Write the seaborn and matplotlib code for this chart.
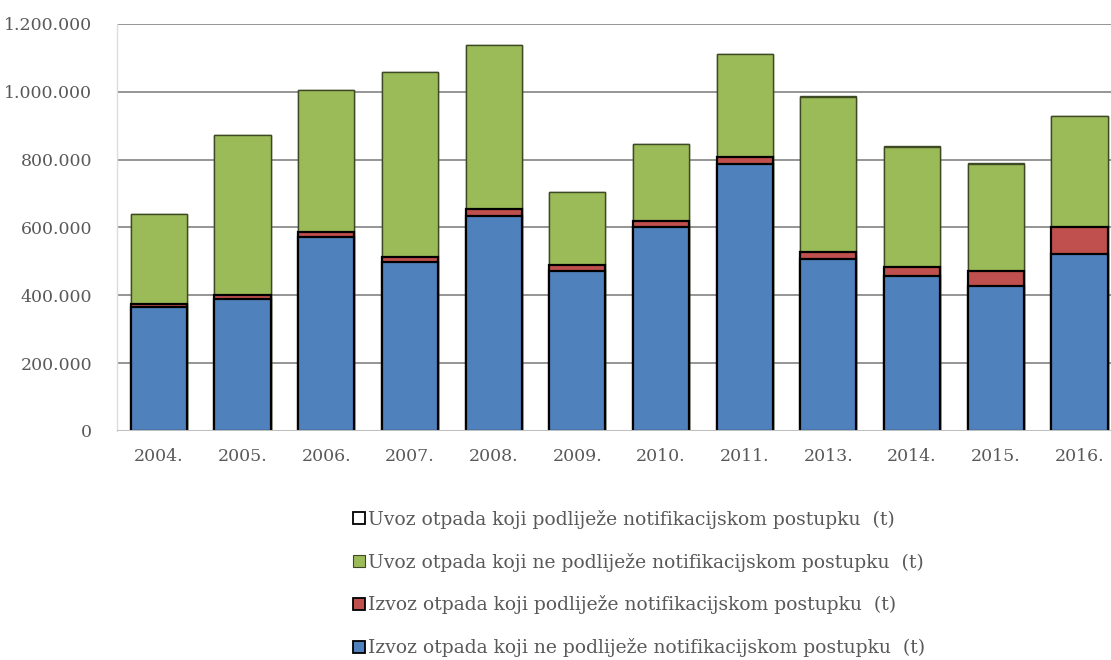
import seaborn as sns
import numpy as np
import pandas as pd
import matplotlib.pyplot as plt
from matplotlib.patches import Patch
from matplotlib.ticker import FuncFormatter

years = ['2004.', '2005.', '2006.', '2007.', '2008.', '2009.',
         '2010.', '2011.', '2013.', '2014.', '2015.', '2016.']
# tonnes per series (stack order bottom -> top)
izvoz_ne = [365000, 388000, 571000, 499000, 634000, 473000, 602000, 786000, 507000, 457000, 427000, 522000]
izvoz_da = [9000, 13000, 16000, 15000, 20000, 16000, 18000, 23000, 21000, 26000, 44000, 78000]
uvoz_ne = [266000, 472000, 418000, 544000, 484000, 216000, 226000, 302000, 458000, 355000, 317000, 328000]
uvoz_da = [1000, 1000, 1000, 1000, 1000, 1000, 1000, 1000, 1000, 1000, 1000, 1000]

labels = ['Uvoz otpada koji podliježe notifikacijskom postupku  (t)',
          'Uvoz otpada koji ne podliježe notifikacijskom postupku  (t)',
          'Izvoz otpada koji podliježe notifikacijskom postupku  (t)',
          'Izvoz otpada koji ne podliježe notifikacijskom postupku  (t)']

sns.set_style('white')
plt.rcParams['font.family'] = ['DejaVu Serif']
grey = '#595959'

df = pd.DataFrame({'year': years, 'izvoz_ne': izvoz_ne, 'izvoz_da': izvoz_da,
                   'uvoz_ne': uvoz_ne, 'uvoz_da': uvoz_da})
df['c1'] = df['izvoz_ne']
df['c2'] = df['c1'] + df['izvoz_da']
df['c3'] = df['c2'] + df['uvoz_ne']
df['c4'] = df['c3'] + df['uvoz_da']

fig = plt.figure(figsize=(11.11, 6.6), dpi=100)
ax = fig.add_axes([0.1053, 0.347, 0.904, 0.6167])

#draw cumulative totals from the top down so each layer covers the one above
layers = [('c4', 'white', '#3d4a24', 1.0),
          ('c3', '#9bbb59', '#3d4a24', 1.0),
          ('c2', '#c0504d', 'black', 1.6),
          ('c1', '#4f81bd', 'black', 1.6)]
for col, fc, ec, lw in layers:
    sns.barplot(data=df, x='year', y=col, color=fc, saturation=1, width=0.67,
                edgecolor=ec, linewidth=lw, ax=ax, zorder=3)

ax.set_xlim(-0.5, 11.5)
ax.set_ylim(0, 1200000)
ax.set_yticks(np.arange(0, 1200001, 200000))
ax.yaxis.set_major_formatter(FuncFormatter(lambda v, p: f'{int(v):,}'.replace(',', '.')))
ax.grid(axis='y', color='#8c8c8c', linewidth=1.3, zorder=0)
ax.set_axisbelow(True)
ax.set_xlabel('')
ax.set_ylabel('')
for s in ['top', 'right', 'bottom']:
    ax.spines[s].set_visible(False)
ax.spines['left'].set_color('#d9dde3')
ax.spines['left'].set_linewidth(1)
ax.axhline(0, color='#bfbfbf', linewidth=1.5, zorder=4)
ax.tick_params(axis='both', colors=grey, labelsize=12.5, length=0)
ax.tick_params(axis='y', pad=18)
ax.tick_params(axis='x', pad=12)

handles = [Patch(facecolor='white', edgecolor='black', linewidth=1.3),
           Patch(facecolor='#9bbb59', edgecolor='#3d4a24', linewidth=0.8),
           Patch(facecolor='#c0504d', edgecolor='black', linewidth=1.3),
           Patch(facecolor='#4f81bd', edgecolor='black', linewidth=1.3)]
leg = fig.legend(handles, labels, loc='upper left', bbox_to_anchor=(0.311, 0.239),
                 frameon=False, fontsize=13.5, labelspacing=1.27, handlelength=0.62,
                 handleheight=0.62, handletextpad=0.2, borderaxespad=0)
for t in leg.get_texts():
    t.set_color(grey)

fig.savefig('out.png', dpi=100)
